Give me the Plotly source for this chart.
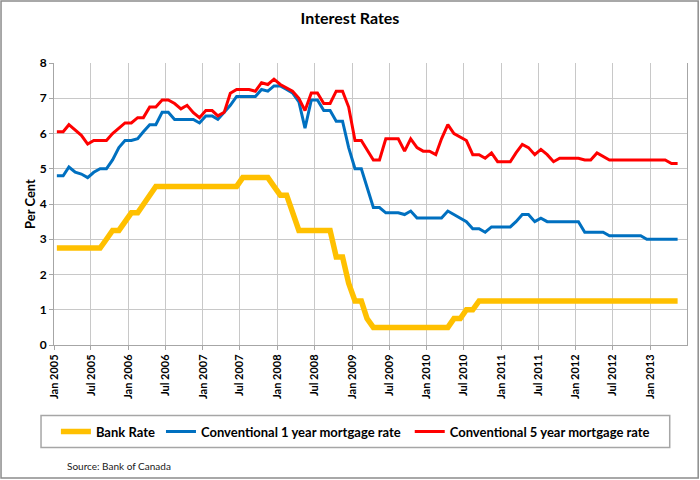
import pandas as pd
import plotly.graph_objects as go

# monthly values, Jan 2005 - May 2013
bank_rate = [2.75, 2.75, 2.75, 2.75, 2.75, 2.75, 2.75, 2.75, 3.0, 3.25,
             3.25, 3.5, 3.75, 3.75, 4.0, 4.25, 4.5, 4.5, 4.5, 4.5,
             4.5, 4.5, 4.5, 4.5, 4.5, 4.5, 4.5, 4.5, 4.5, 4.5,
             4.75, 4.75, 4.75, 4.75, 4.75, 4.5, 4.25, 4.25, 3.75, 3.25,
             3.25, 3.25, 3.25, 3.25, 3.25, 2.5, 2.5, 1.75, 1.25, 1.25,
             0.75, 0.5, 0.5, 0.5, 0.5, 0.5, 0.5, 0.5, 0.5, 0.5,
             0.5, 0.5, 0.5, 0.5, 0.75, 0.75, 1.0, 1.0, 1.25, 1.25,
             1.25, 1.25, 1.25, 1.25, 1.25, 1.25, 1.25, 1.25, 1.25, 1.25,
             1.25, 1.25, 1.25, 1.25, 1.25, 1.25, 1.25, 1.25, 1.25, 1.25,
             1.25, 1.25, 1.25, 1.25, 1.25, 1.25, 1.25, 1.25, 1.25, 1.25,
             1.25]

mortgage_1yr = [4.8, 4.8, 5.05, 4.9, 4.85, 4.75, 4.9, 5.0, 5.0, 5.25,
                5.6, 5.8, 5.8, 5.85, 6.05, 6.25, 6.25, 6.6, 6.6, 6.4,
                6.4, 6.4, 6.4, 6.3, 6.5, 6.5, 6.4, 6.6, 6.8, 7.05,
                7.05, 7.05, 7.05, 7.25, 7.2, 7.35, 7.35, 7.25, 7.15, 6.9,
                6.15, 6.95, 6.95, 6.65, 6.65, 6.35, 6.35, 5.6, 5.0, 5.0,
                4.45, 3.9, 3.9, 3.75, 3.75, 3.75, 3.7, 3.8, 3.6, 3.6,
                3.6, 3.6, 3.6, 3.8, 3.7, 3.6, 3.5, 3.3, 3.3, 3.2,
                3.35, 3.35, 3.35, 3.35, 3.5, 3.7, 3.7, 3.5, 3.6, 3.5,
                3.5, 3.5, 3.5, 3.5, 3.5, 3.2, 3.2, 3.2, 3.2, 3.1,
                3.1, 3.1, 3.1, 3.1, 3.1, 3.0, 3.0, 3.0, 3.0, 3.0,
                3.0]

mortgage_5yr = [6.05, 6.05, 6.25, 6.1, 5.95, 5.7, 5.8, 5.8, 5.8, 6.0,
                6.15, 6.3, 6.3, 6.45, 6.45, 6.75, 6.75, 6.95, 6.95, 6.85,
                6.7, 6.8, 6.59, 6.45, 6.65, 6.65, 6.5, 6.6, 7.14, 7.25,
                7.25, 7.25, 7.2, 7.44, 7.39, 7.54, 7.39, 7.3, 7.2, 7.0,
                6.65, 7.15, 7.15, 6.85, 6.85, 7.2, 7.2, 6.75, 5.8, 5.8,
                5.55, 5.25, 5.25, 5.85, 5.85, 5.85, 5.5, 5.85, 5.6, 5.5,
                5.5, 5.4, 5.85, 6.25, 6.0, 5.9, 5.8, 5.4, 5.4, 5.3,
                5.45, 5.2, 5.2, 5.2, 5.45, 5.69, 5.6, 5.4, 5.55, 5.4,
                5.2, 5.3, 5.3, 5.3, 5.3, 5.25, 5.25, 5.45, 5.35, 5.25,
                5.25, 5.25, 5.25, 5.25, 5.25, 5.25, 5.25, 5.25, 5.25, 5.15,
                5.15]

# each month is plotted in the middle of its slot, like an excel category axis
months = pd.date_range("2005-01-01", periods=len(bank_rate), freq="MS") + pd.Timedelta(days=14)

FONT = "Lato"

fig = go.Figure()
fig.add_trace(go.Scatter(x=months, y=bank_rate, mode="lines", name="Bank Rate",
                         line=dict(color="#FFC000", width=5.5), legend="legend", showlegend=True))
fig.add_trace(go.Scatter(x=months, y=mortgage_1yr, mode="lines", name="Conventional 1 year mortgage rate",
                         line=dict(color="#0070C0", width=3), legend="legend2", showlegend=True))
fig.add_trace(go.Scatter(x=months, y=mortgage_5yr, mode="lines", name="Conventional 5 year mortgage rate",
                         line=dict(color="#FF0000", width=3), legend="legend3", showlegend=True))

leg = dict(orientation="h", yanchor="middle", y=-0.307, xanchor="left",
           bgcolor="rgba(0,0,0,0)", borderwidth=0, itemwidth=30,
           font=dict(family=FONT, size=13, color="black", weight="bold"))

fig.update_layout(
    width=700, height=480,
    showlegend=True,
    margin=dict(l=54, r=13, t=63, b=135, autoexpand=False),
    paper_bgcolor="white", plot_bgcolor="white",
    title=dict(text="Interest Rates", x=0.5, xref="container", y=1 - 18 / 480, yref="container",
               xanchor="center", yanchor="middle",
               font=dict(family=FONT, size=16, color="black", weight="bold")),
    legend=dict(leg, x=0.003),
    legend2=dict(leg, x=0.169),
    legend3=dict(leg, x=0.562),
    xaxis=dict(type="date", range=["2005-01-01", "2013-06-30"],
               tick0="2005-01-01", dtick="M6", tickformat="%b %Y", tickangle=-90,
               showgrid=True, gridcolor="#c8c8c8", gridwidth=1,
               showline=True, linecolor="#a6a6a6", linewidth=1,
               ticks="outside", ticklen=4, tickcolor="#a6a6a6",
               tickfont=dict(family=FONT, size=11, color="black", weight="bold")),
    yaxis=dict(range=[0, 8], dtick=1, showgrid=True, gridcolor="#c8c8c8", gridwidth=1,
               zeroline=False, showline=True, linecolor="#a6a6a6", linewidth=1, mirror=True,
               ticks="outside", ticklen=4, tickcolor="#a6a6a6",
               tickfont=dict(family=FONT, size=12, color="black", weight="bold"),
               title=dict(text="Per Cent", standoff=1,
                          font=dict(family=FONT, size=13, color="black", weight="bold"))),
)

# legend frame and outer chart border
fig.add_shape(type="rect", xref="paper", yref="paper", x0=-0.0205, x1=0.9727, y0=-0.3638, y1=-0.2504,
              line=dict(color="#a6a6a6", width=1.5), fillcolor="rgba(0,0,0,0)")
fig.add_shape(type="rect", xref="paper", yref="paper",
              x0=(1 - 54) / 633.3, x1=(698.5 - 54) / 633.3, y0=(345.3 - 478.5) / 282.3, y1=(345.3 - 1) / 282.3,
              line=dict(color="#8c8c8c", width=1.5), fillcolor="rgba(0,0,0,0)")

fig.add_annotation(text="Source: Bank of Canada", xref="paper", yref="paper", x=0.0174, y=-0.4276,
                   xanchor="left", yanchor="middle", showarrow=False,
                   font=dict(family=FONT, size=10, color="#202020"))

# page margin off so the 700x480 figure fills the window
fig.write_html("out.html", config={"displayModeBar": False},
               post_script="document.body.style.margin='0';")
